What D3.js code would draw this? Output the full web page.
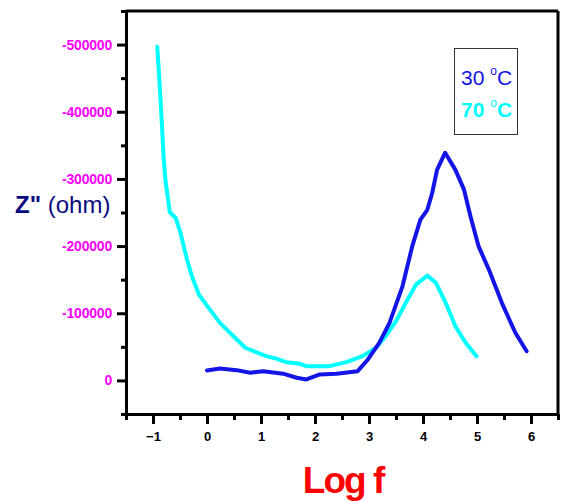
<!DOCTYPE html>
<html><head><meta charset="utf-8">
<script src="https://cdn.jsdelivr.net/npm/d3@7"></script>
<style>body{margin:0;background:#fff}svg{display:block}</style>
</head><body>
<svg id="c" width="561" height="502"></svg>
<script>
// data
const logF30 = [0, 0.24, 0.55, 0.8, 1.04, 1.41, 1.66, 1.84, 2.09, 2.4, 2.79, 2.98, 3.19, 3.38, 3.62, 3.80, 3.95, 4.08, 4.17, 4.26, 4.41, 4.60, 4.76, 4.88, 5.03, 5.22, 5.46, 5.71, 5.92];
const zpp30 = [14900, 17800, 15300, 11400, 13800, 10000, 4000, 1500, 8900, 10000, 13800, 31200, 56000, 85700, 140100, 199500, 239000, 254000, 279000, 313500, 339000, 313500, 284000, 244000, 199500, 165000, 115500, 70900, 43500];
const logF70 = [-0.92, -0.86, -0.80, -0.77, -0.69, -0.58, -0.49, -0.37, -0.28, -0.15, 0.03, 0.24, 0.49, 0.71, 0.86, 1.10, 1.29, 1.47, 1.72, 1.84, 2.27, 2.58, 2.88, 3.13, 3.31, 3.50, 3.68, 3.87, 4.08, 4.24, 4.42, 4.60, 4.79, 4.99];
const zpp70 = [496700, 417500, 328000, 298700, 250700, 241800, 219500, 179800, 155000, 127800, 108000, 85700, 65800, 48600, 43500, 36100, 32200, 27200, 24800, 21200, 21200, 27200, 36100, 48600, 65800, 88100, 115500, 142600, 156000, 145200, 115500, 80700, 56000, 36100];
const xTicks = [-1, 0, 1, 2, 3, 4, 5, 6];
const yTicks = [0, 100000, 200000, 300000, 400000, 500000];
const seriesNames = ["30", "70"];

const svg = d3.select("#c");
const L = 126, R = 558, T = 11, B = 414;
const x = d3.scaleLinear().domain([-1.5, 6.5]).range([L, R]);
const y = d3.scaleLinear().domain([-50000, 550000]).range([B, T]);

// minor ticks
const xMinor = d3.range(-1.5, 6.51, 1);
const yMinor = d3.range(-50000, 550001, 100000);

// frame top & right
svg.append("line").attr("x1", L).attr("x2", R).attr("y1", T).attr("y2", T).attr("stroke", "#000").attr("stroke-width", 3);
svg.append("line").attr("x1", R).attr("x2", R).attr("y1", T).attr("y2", B).attr("stroke", "#000").attr("stroke-width", 3);

// x axis
const gx = svg.append("g").attr("transform", `translate(0,${B})`)
  .call(d3.axisBottom(x).tickValues(xTicks).tickSize(10).tickSizeOuter(0).tickPadding(8).tickFormat(d3.format("d")));
gx.select(".domain").attr("stroke-width", 3);
gx.selectAll(".tick line").attr("stroke-width", 3);
gx.selectAll(".tick text").attr("font-family", "Liberation Sans, Arial, sans-serif").attr("font-weight", "bold").attr("font-size", 13).attr("fill", "#000");
svg.append("g").attr("transform", `translate(0,${B})`)
  .call(d3.axisBottom(x).tickValues(xMinor).tickSize(6).tickSizeOuter(0).tickFormat(""))
  .call(g => { g.select(".domain").remove(); g.selectAll(".tick line").attr("stroke-width", 3); });

// y axis
const gy = svg.append("g").attr("transform", `translate(${L},0)`)
  .call(d3.axisLeft(y).tickValues(yTicks).tickSize(9).tickSizeOuter(0).tickPadding(5).tickFormat(d => d === 0 ? "0" : "-" + d));
gy.select(".domain").attr("stroke-width", 3);
gy.selectAll(".tick line").attr("stroke-width", 3);
gy.selectAll(".tick text").attr("font-family", "Liberation Sans, Arial, sans-serif").attr("font-weight", "bold").attr("font-size", 14).attr("fill", "#ff00ff").attr("letter-spacing", -0.2);
svg.append("g").attr("transform", `translate(${L},0)`)
  .call(d3.axisLeft(y).tickValues(yMinor).tickSize(5).tickSizeOuter(0).tickFormat(""))
  .call(g => { g.select(".domain").remove(); g.selectAll(".tick line").attr("stroke-width", 3); });

// lines
const line = d3.line().x(d => x(d[0])).y(d => y(d[1]));
const d30 = logF30.map((v, i) => [v, zpp30[i]]);
const d70 = logF70.map((v, i) => [v, zpp70[i]]);
svg.append("path").datum(d70).attr("d", line).attr("fill", "none").attr("stroke", "#00ffff").attr("stroke-width", 4).attr("stroke-linejoin", "round").attr("stroke-linecap", "round");
svg.append("path").datum(d30).attr("d", line).attr("fill", "none").attr("stroke", "#1414e6").attr("stroke-width", 4).attr("stroke-linejoin", "round").attr("stroke-linecap", "round");

// legend
svg.append("rect").attr("x", 454.5).attr("y", 48.5).attr("width", 63).attr("height", 86).attr("fill", "none").attr("stroke", "#333").attr("stroke-width", 1);
function legendText(yy, name, color, weight) {
  const t = svg.append("text").attr("x", 461).attr("y", yy).attr("font-family", "Liberation Sans, Arial, sans-serif")
    .attr("font-size", 21).attr("fill", color).attr("font-weight", weight);
  t.append("tspan").text(name + " ");
  t.append("tspan").attr("font-size", 12).attr("dy", -10).attr("font-weight", "normal").text("o");
  t.append("tspan").attr("dy", 10).text("C");
}
legendText(85, seriesNames[0], "#1414e6", "normal");
legendText(117, seriesNames[1], "#00ffff", "bold");

// axis titles
const yt = svg.append("text").attr("x", 15).attr("y", 213).attr("font-family", "Liberation Sans, Arial, sans-serif").attr("font-size", 24).attr("fill", "#0a0a80");
yt.append("tspan").attr("font-weight", "bold").text("Z\"");
yt.append("tspan").text(" (ohm)");

svg.append("text").attr("x", 343).attr("y", 493).attr("text-anchor", "middle").attr("font-family", "Liberation Sans, Arial, sans-serif")
  .attr("font-size", 37).attr("font-weight", "bold").attr("letter-spacing", -2).attr("fill", "#ff0000").text("Log f");
</script>
</body></html>
